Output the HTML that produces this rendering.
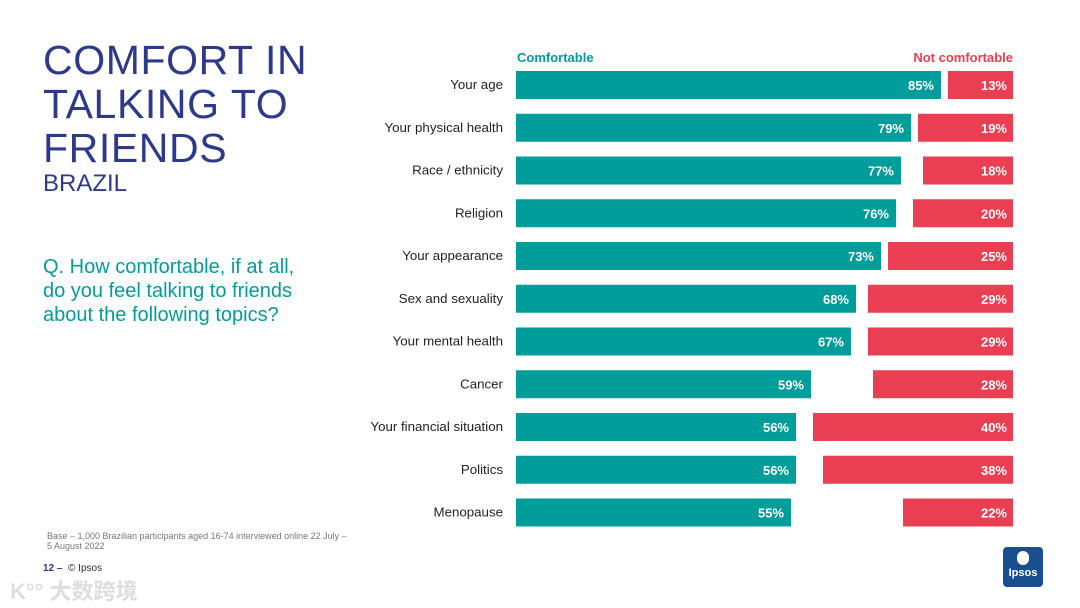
<!DOCTYPE html>
<html><head><meta charset="utf-8">
<style>
body{margin:0;width:1080px;height:608px;background:#fff;font-family:"Liberation Sans",Arial,sans-serif;position:relative;overflow:hidden}
.t{position:absolute;left:43px;top:38px;color:#2d3a8c;font-size:41px;line-height:44px;letter-spacing:0.6px}
.s{position:absolute;left:43px;top:170px;color:#2d3a8c;font-size:24px}
.q{position:absolute;left:43px;top:255px;color:#009d9a;font-size:20px;line-height:24px}
.b{position:absolute;left:47px;top:531px;color:#777;font-size:9px;line-height:10px}
.p{position:absolute;left:43px;top:563px;font-size:10px;color:#333}
.logo{position:absolute;left:1003px;top:547px;width:40px;height:40px;background:#1a4f8f;border-radius:4px;color:#fff;font-size:11px;font-weight:bold;text-align:center}
.wm{position:absolute;left:10px;top:574px;color:#ddd;font-size:22px;font-family:"Liberation Sans","Noto Sans CJK SC",sans-serif;font-weight:bold}
</style></head><body>
<div class="t">COMFORT IN<br>TALKING TO<br>FRIENDS</div>
<div class="s">BRAZIL</div>
<div class="q">Q. How comfortable, if at all,<br>do you feel talking to friends<br>about the following topics?</div>
<div class="b">Base – 1,000 Brazilian participants aged 16-74 interviewed online 22 July –<br>5 August 2022</div>
<div class="p"><b style="color:#2d3a8c">12 –</b>&nbsp; © Ipsos</div>
<div class="logo"><div style="width:12px;height:14px;background:#fff;border-radius:6px;margin:4px auto 2px"></div>Ipsos</div>
<div class="wm">K°° 大数跨境</div>
<svg id="chart" width="1080" height="608" style="position:absolute;left:0;top:0"></svg>
<script>
const categories=["Your age","Your physical health","Race / ethnicity","Religion","Your appearance","Sex and sexuality","Your mental health","Cancer","Your financial situation","Politics","Menopause"];
const comfortable=[85,79,77,76,73,68,67,59,56,56,55];
const notComfortable=[13,19,18,20,25,29,29,28,40,38,22];
const NS="http://www.w3.org/2000/svg";
const svg=document.getElementById('chart');
const x0=516,x1=1013,scale=5.0,rowTop=71,rowStep=42.75,barH=28;
function xL(v){return x0+v*scale}
function xR(v){return x1-v*scale}
function rowY(i){return rowTop+i*rowStep}
function mk(tag,attrs,text){const e=document.createElementNS(NS,tag);for(const k in attrs)e.setAttribute(k,attrs[k]);if(text!==undefined)e.textContent=text;svg.appendChild(e);return e}
let h=mk('text',{x:517,y:62,fill:'#009d9a','font-size':13,'font-weight':'bold'},'Comfortable');


h=mk('text',{x:1013,y:62,fill:'#e8404f','font-size':13,'font-weight':'bold','text-anchor':'end'},'Not comfortable');


categories.forEach((c,i)=>{
  const y=rowY(i);
  let l=mk('text',{x:503,y:y+18,fill:'#222','font-size':13.3,'text-anchor':'end'},c);
  
  
  let b=mk('rect',{x:x0,y:y,width:xL(comfortable[i])-x0,height:barH,fill:'#009d9a'});
  
  
  let t=mk('text',{x:xL(comfortable[i])-7,y:y+19,fill:'#fff','font-size':13,'font-weight':'bold','text-anchor':'end'},comfortable[i]+'%');
  
  
  let r=mk('rect',{x:xR(notComfortable[i]),y:y,width:x1-xR(notComfortable[i]),height:barH,fill:'#ea3f52'});
  
  
  let u=mk('text',{x:x1-6,y:y+19,fill:'#fff','font-size':13,'font-weight':'bold','text-anchor':'end'},notComfortable[i]+'%');
  
  
});
</script>
</body></html>
